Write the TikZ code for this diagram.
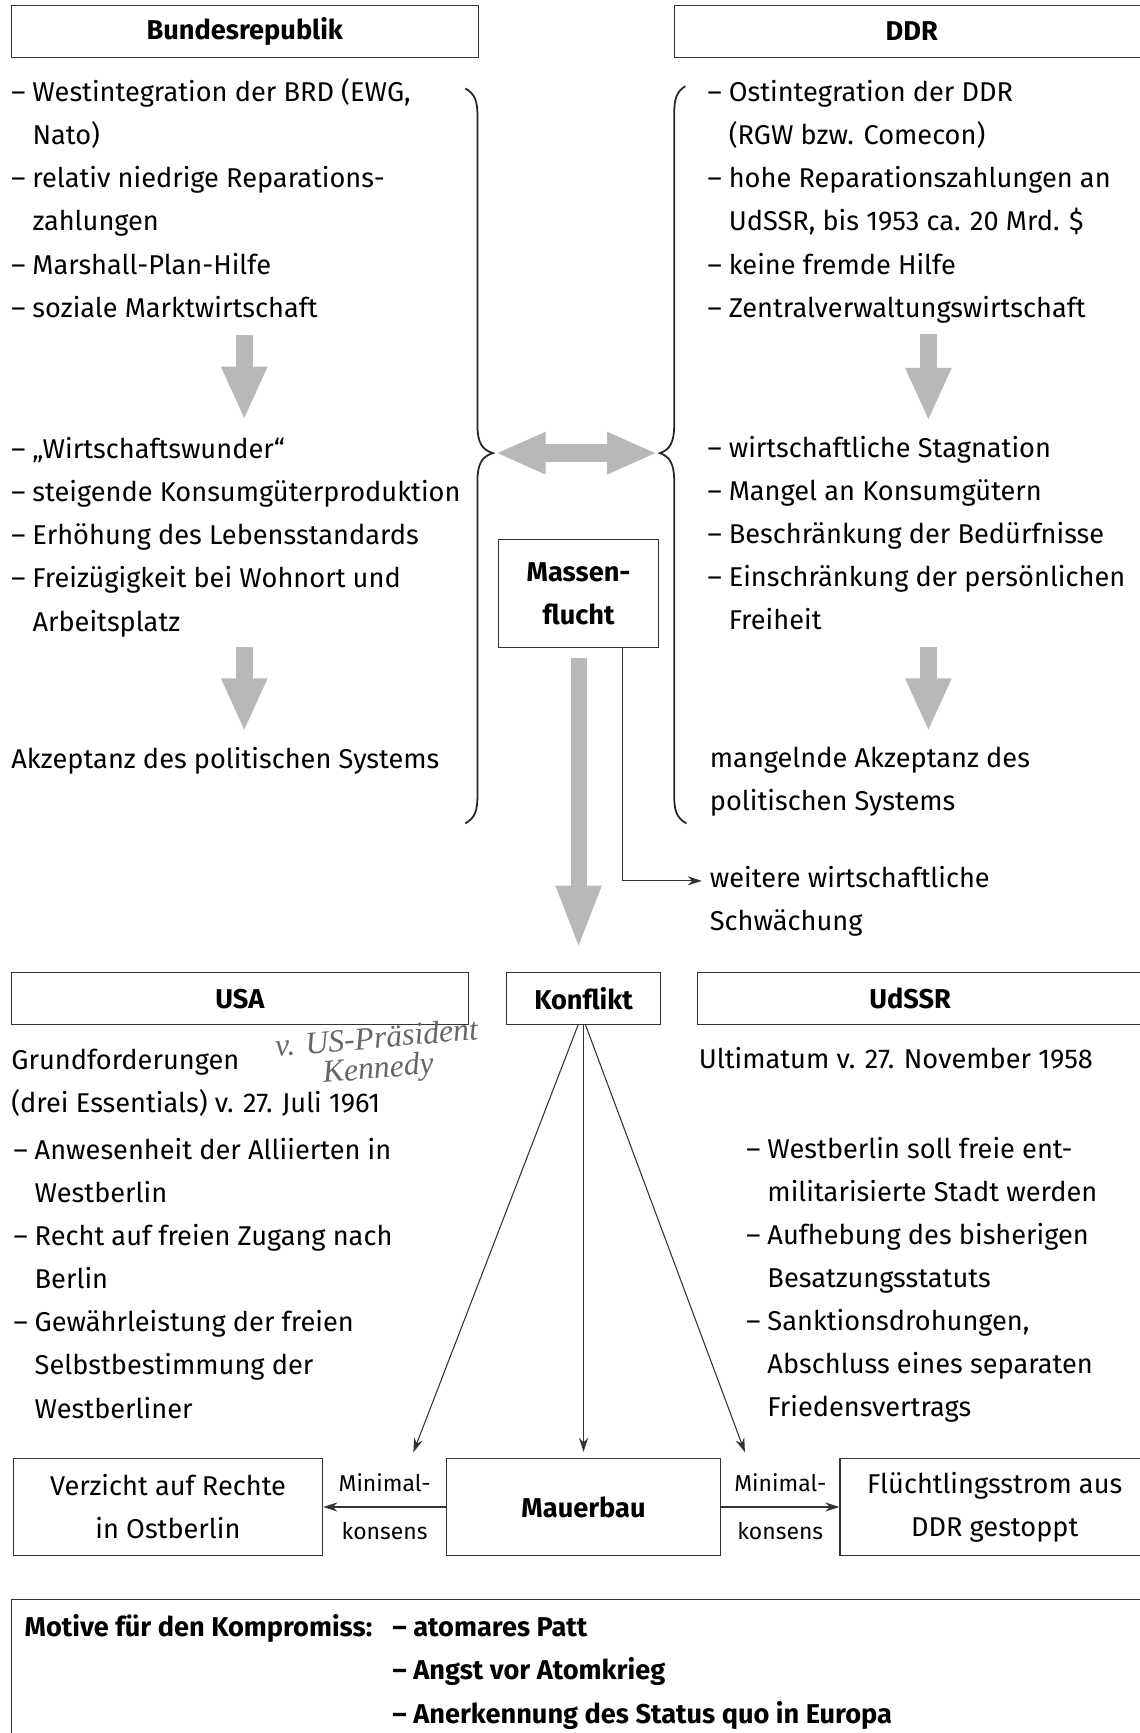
\documentclass[tikz,border=0pt]{standalone}
\usepackage{fontspec}
\setmainfont{Fira Sans}
\newfontfamily\hand{Liberation Serif}
\usetikzlibrary{arrows.meta,positioning}

\newcommand\grund{\fontsize{15.4}{24.42}\selectfont}
\newcommand\strich{\makebox[0.42cm][l]{–}}
\newcommand\einr{\hspace*{0.42cm}}

\begin{document}
\begin{tikzpicture}[x=0.022cm, y=-0.022cm, font=\grund,
    kasten/.style={rectangle, draw=black!80, line width=0.6pt, inner sep=0pt, minimum height=1.034cm, font=\grund\bfseries},
    textbox/.style={rectangle, draw=black!80, line width=0.6pt, inner sep=0pt, minimum height=1.914cm, align=center},
    liste/.style={anchor=base west, align=left, inner sep=0pt},
    klein/.style={font=\fontsize{13}{15}\selectfont, inner sep=0pt},
    blockpfeil/.style={draw=black!28, line width=0.33cm, -{Triangle[width=0.84cm, length=1.06cm]}},
    duenn/.style={draw=black!80, line width=0.6pt, -{Stealth[length=0.28cm, width=0.18cm]}},
    klammer/.style={draw=black!85, line width=1pt}]

\useasboundingbox (0,0) rectangle (1031,1568);

% Kopfzeile
\node[kasten, minimum width=9.306cm] (brd) at (221.5,28.5) {Bundesrepublik};
\node[kasten, minimum width=9.46cm] (ddr) at (825,28.5) {DDR};

% Bundesrepublik (Listen sitzen mit der letzten Zeile auf der Grundlinie)
\node[liste] (brdA) at (10,287) {\strich Westintegration der BRD (EWG,\\\einr Nato)\\\strich relativ niedrige Reparations-\\\einr zahlungen\\\strich Marshall-Plan-Hilfe\\\strich soziale Marktwirtschaft};
\node[liste] (brdB) at (10,571) {\strich „Wirtschaftswunder“\\\strich steigende Konsumgüterproduktion\\\strich Erhöhung des Lebensstandards\\\strich Freizügigkeit bei Wohnort und\\\einr Arbeitsplatz};
\node[liste] (brdC) at (10,695) {Akzeptanz des politischen Systems};

% DDR
\node[liste] (ddrA) at (640,287) {\strich Ostintegration der DDR\\\einr (RGW bzw. Comecon)\\\strich hohe Reparationszahlungen an\\\einr UdSSR, bis 1953 ca. 20 Mrd. \$\\\strich keine fremde Hilfe\\\strich Zentralverwaltungswirtschaft};
\node[liste] (ddrB) at (640,570) {\strich wirtschaftliche Stagnation\\\strich Mangel an Konsumgütern\\\strich Beschränkung der Bedürfnisse\\\strich Einschränkung der persönlichen\\\einr Freiheit};
\node[liste] (ddrC) at (642,733) {mangelnde Akzeptanz des\\politischen Systems};

% graue Pfeile in den Spalten
\coordinate (l1a) at (221,303); \coordinate (l1b) at (221,380);
\coordinate (l2a) at (221,585); \coordinate (l2b) at (221,662);
\coordinate (r1a) at (840,302); \coordinate (r1b) at (840,381);
\coordinate (r2a) at (840,585); \coordinate (r2b) at (840,662);
\draw[blockpfeil] (l1a) -- (l1b);
\draw[blockpfeil] (l2a) -- (l2b);
\draw[blockpfeil] (r1a) -- (r1b);
\draw[blockpfeil] (r2a) -- (r2b);

% Klammern
\coordinate (spitzeL) at (446,410);
\coordinate (spitzeR) at (597,410);
\draw[klammer] (421,80) .. controls (430,85) and (432,92) .. (432,105) -- (432,385)
    .. controls (432,400) and (436,407) .. (spitzeL) .. controls (436,413) and (432,420) .. (432,435)
    -- (432,720) .. controls (432,733) and (430,740) .. (421,745);
\draw[klammer] (620,78) .. controls (612,83) and (610,90) .. (610,103) -- (610,385)
    .. controls (610,400) and (606,407) .. (spitzeR) .. controls (606,413) and (610,420) .. (610,435)
    -- (610,720) .. controls (610,733) and (612,740) .. (621,745);
\draw[blockpfeil, line width=0.35cm, {Triangle[width=0.77cm, length=1cm]}-{Triangle[width=0.77cm, length=1cm]}]
    ([xshift=0.05cm]spitzeL) -- ([xshift=-0.05cm]spitzeR);

% Massenflucht
\node[kasten, minimum width=3.19cm, minimum height=2.156cm, align=center] (massen) at (523.5,537) {Massen-\\flucht};
\node[liste] (schwaech) at (642,842) {weitere wirtschaftliche\\Schwächung};
\coordinate (schwaechZiel) at (635,797);
\draw[duenn] ([xshift=0.869cm]massen.south) |- (schwaechZiel);

% Konfliktzeile
\node[kasten, minimum width=9.108cm] (usa) at (217,903.5) {USA};
\node[kasten, minimum width=3.08cm] (konflikt) at (528,903.5) {Konflikt};
\node[kasten, minimum width=8.998cm] (udssr) at (835.5,903.5) {\hspace*{-0.53cm}UdSSR};
\draw[blockpfeil, line width=0.32cm, -{Triangle[width=0.81cm, length=1.28cm]}]
    ([yshift=-0.2cm]massen.south) -- ([yshift=0.44cm]konflikt.north -| massen.south);

% USA
\node[liste] (usaA) at (10,1007) {Grundforderungen\\(drei Essentials) v. 27. Juli 1961};
\node[font=\hand\itshape\fontsize{18}{17}\selectfont, text=black!60, rotate=5, align=left, inner sep=0pt] (notiz) at (342,955) {v. US-Präsident\\\hspace*{0.9cm}Kennedy};
\node[liste] (usaB) at (12,1283) {\strich Anwesenheit der Alliierten in\\\einr Westberlin\\\strich Recht auf freien Zugang nach\\\einr Berlin\\\strich Gewährleistung der freien\\\einr Selbstbestimmung der\\\einr Westberliner};

% UdSSR
\node[liste] (udssrA) at (632,967) {Ultimatum v. 27. November 1958};
\node[liste] (udssrB) at (675,1282) {\strich Westberlin soll freie ent-\\\einr militarisierte Stadt werden\\\strich Aufhebung des bisherigen\\\einr Besatzungsstatuts\\\strich Sanktionsdrohungen,\\\einr Abschluss eines separaten\\\einr Friedensvertrags};

% Ergebnis
\node[textbox, minimum width=6.16cm] (verzicht) at (152,1363.5) {Verzicht auf Rechte\\in Ostberlin};
\node[textbox, minimum width=5.456cm, font=\grund\bfseries] (mauer) at (528,1363.5) {Mauerbau};
\node[textbox, minimum width=6.16cm] (fluecht) at (900,1363.5) {Flüchtlingsstrom aus\\DDR gestoppt};

\coordinate (zielL) at (374,1314);
\coordinate (zielR) at (674,1314);
\draw[duenn] ([xshift=-0.11cm]konflikt.south) -- (zielL);
\draw[duenn] (konflikt.south) -- ([yshift=0.13cm]mauer.north);
\draw[duenn] ([xshift=0.04cm]konflikt.south) -- (zielR);

\draw[duenn] (mauer.west) -- node[klein, above=0.3cm] (minL) {Minimal-} node[klein, below=0.3cm] (konsL) {konsens} (verzicht.east);
\draw[duenn] (mauer.east) -- node[klein, above=0.3cm] (minR) {Minimal-} node[klein, below=0.3cm] (konsR) {konsens} (fluecht.west);

% Motive
\node[rectangle, draw=black!80, line width=0.6pt, minimum width=22.66cm, minimum height=4.4cm, anchor=north west] (motive) at (10,1447) {};
\node[liste, font=\grund\bfseries] (motivkopf) at (22,1481) {Motive für den Kompromiss:};
\node[liste, font=\grund\bfseries] (motivliste) at (355,1559) {– atomares Patt\\– Angst vor Atomkrieg\\– Anerkennung des Status quo in Europa};
\end{tikzpicture}
\end{document}
